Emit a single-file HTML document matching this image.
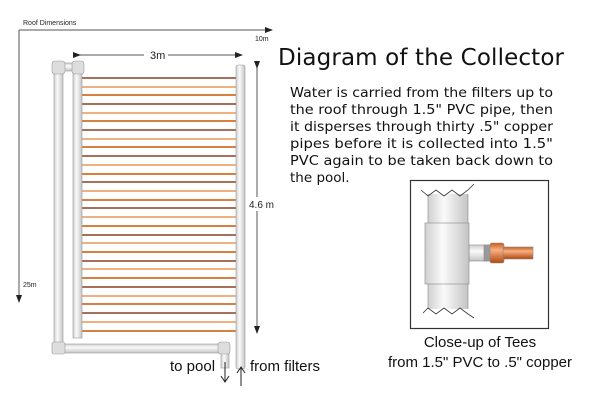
<!DOCTYPE html>
<html><head><meta charset="utf-8"><style>html,body{margin:0;padding:0;background:#fff}svg{display:block}</style></head><body>
<svg width="600" height="400" viewBox="0 0 600 400" xmlns="http://www.w3.org/2000/svg">
<defs>
<linearGradient id="pv" x1="0" x2="1" y1="0" y2="0"><stop offset="0" stop-color="#d0d0d0"/><stop offset="0.4" stop-color="#fafafa"/><stop offset="1" stop-color="#c4c4c4"/></linearGradient>
<linearGradient id="ph" x1="0" x2="0" y1="0" y2="1"><stop offset="0" stop-color="#d0d0d0"/><stop offset="0.4" stop-color="#fafafa"/><stop offset="1" stop-color="#c4c4c4"/></linearGradient>
<linearGradient id="cu" x1="0" x2="0" y1="0" y2="1"><stop offset="0" stop-color="#c85a20"/><stop offset="0.35" stop-color="#f8b080"/><stop offset="1" stop-color="#b04810"/></linearGradient>
<marker id="ah" markerWidth="8" markerHeight="6" refX="7" refY="3" orient="auto"><path d="M0,0 L8,3 L0,6 z" fill="#222"/></marker>
</defs>
<g font-family="Liberation Sans, sans-serif" fill="#222">
<text x="23" y="25" font-size="7">Roof Dimensions</text>
<text x="255" y="41" font-size="7">10m</text>
<text x="23" y="287" font-size="7">25m</text>
</g>
<line x1="19" y1="30" x2="272" y2="30" stroke="#555" stroke-width="1" marker-end="url(#ah)"/>
<line x1="19" y1="30" x2="19" y2="302" stroke="#555" stroke-width="1" marker-end="url(#ah)"/>
<line x1="80" y1="55" x2="144" y2="55" stroke="#555" marker-start="url(#ah)"/>
<line x1="168" y1="55" x2="242" y2="55" stroke="#555" marker-end="url(#ah)"/>
<text x="150" y="59" font-family="Liberation Sans, sans-serif" font-size="11" fill="#222">3m</text>
<line x1="257" y1="68" x2="257" y2="333" stroke="#555" marker-start="url(#ah)" marker-end="url(#ah)"/>
<rect x="249" y="197" width="26" height="14" fill="#fff"/>
<text x="249" y="208" font-family="Liberation Sans, sans-serif" font-size="10" fill="#222">4.6 m</text>
<g>
<rect x="81" y="77" width="155" height="2" fill="#a87058"/><rect x="81" y="86" width="155" height="2" fill="#f0b080"/><rect x="81" y="94" width="155" height="2" fill="#d88040"/>
<rect x="81" y="103" width="155" height="2" fill="#a87058"/><rect x="81" y="112" width="155" height="2" fill="#f0b080"/><rect x="81" y="120" width="155" height="2" fill="#d88040"/>
<rect x="81" y="129" width="155" height="2" fill="#a87058"/><rect x="81" y="138" width="155" height="2" fill="#f0b080"/><rect x="81" y="146" width="155" height="2" fill="#d88040"/>
<rect x="81" y="155" width="155" height="2" fill="#a87058"/><rect x="81" y="164" width="155" height="2" fill="#f0b080"/><rect x="81" y="173" width="155" height="2" fill="#d88040"/>
<rect x="81" y="181" width="155" height="2" fill="#a87058"/><rect x="81" y="190" width="155" height="2" fill="#f0b080"/><rect x="81" y="199" width="155" height="2" fill="#d88040"/>
<rect x="81" y="207" width="155" height="2" fill="#a87058"/><rect x="81" y="216" width="155" height="2" fill="#f0b080"/><rect x="81" y="225" width="155" height="2" fill="#d88040"/>
<rect x="81" y="234" width="155" height="2" fill="#a87058"/><rect x="81" y="242" width="155" height="2" fill="#f0b080"/><rect x="81" y="251" width="155" height="2" fill="#d88040"/>
<rect x="81" y="260" width="155" height="2" fill="#a87058"/><rect x="81" y="268" width="155" height="2" fill="#f0b080"/><rect x="81" y="277" width="155" height="2" fill="#d88040"/>
<rect x="81" y="286" width="155" height="2" fill="#a87058"/><rect x="81" y="295" width="155" height="2" fill="#f0b080"/><rect x="81" y="303" width="155" height="2" fill="#d88040"/>
<rect x="81" y="312" width="155" height="2" fill="#a87058"/><rect x="81" y="321" width="155" height="2" fill="#f0b080"/><rect x="81" y="330" width="155" height="2" fill="#d88040"/>
</g>
<g stroke="#999" stroke-width="0.6">
<rect x="54" y="70" width="9" height="275" fill="url(#pv)"/>
<rect x="73" y="70" width="9" height="268" fill="url(#pv)"/>
<rect x="236" y="65" width="9" height="304" rx="2" fill="url(#pv)"/>
<rect x="62" y="63" width="12" height="8" fill="url(#ph)"/>
<rect x="52" y="61" width="13" height="13" rx="3" fill="#ddd"/>
<rect x="72" y="61" width="12" height="13" rx="3" fill="#ddd"/>
<rect x="64" y="344" width="156" height="9" fill="url(#ph)"/>
<rect x="221" y="350" width="8" height="18" fill="url(#pv)"/>
<rect x="52" y="342" width="13" height="12" rx="2" fill="#ddd"/>
<rect x="218" y="342" width="12" height="12" rx="3" fill="#ddd"/>
</g>
<line x1="225" y1="362" x2="225" y2="382" stroke="#222"/><path d="M221,376 L225,382 L229,376" fill="none" stroke="#222"/>
<line x1="241" y1="386" x2="241" y2="367" stroke="#222"/><path d="M237,373 L241,367 L245,373" fill="none" stroke="#222"/>
<g font-family="Liberation Sans, sans-serif" font-size="15" fill="#111">
<text x="170" y="371">to pool</text>
<text x="250" y="371">from filters</text>
</g>
<text x="278" y="65" font-family="DejaVu Sans, sans-serif" font-size="23" fill="#111" textLength="286">Diagram of the Collector</text>
<g font-family="DejaVu Sans, sans-serif" font-size="13.5" fill="#111">
<text x="290" y="97" textLength="263" lengthAdjust="spacingAndGlyphs">Water is carried from the filters up to</text>
<text x="290" y="114" textLength="263" lengthAdjust="spacingAndGlyphs">the roof through 1.5" PVC pipe, then</text>
<text x="290" y="131" textLength="263" lengthAdjust="spacingAndGlyphs">it disperses through thirty .5" copper</text>
<text x="290" y="148" textLength="263" lengthAdjust="spacingAndGlyphs">pipes before it is collected into 1.5"</text>
<text x="290" y="165" textLength="263" lengthAdjust="spacingAndGlyphs">PVC again to be taken back down to</text>
<text x="290" y="182">the pool.</text>
</g>
<rect x="410.5" y="180.5" width="138" height="148" fill="#fff" stroke="#333" stroke-width="1.2"/>
<g stroke="#888" stroke-width="0.6">
<rect x="428" y="194" width="40" height="115" fill="url(#pv)" stroke="none"/>
<line x1="428" y1="194" x2="428" y2="309"/><line x1="468" y1="194" x2="468" y2="309"/>
<rect x="469" y="245" width="21" height="16" fill="url(#ph)"/>
<rect x="425" y="223" width="44" height="61" fill="url(#pv)"/>
<rect x="484" y="245" width="7" height="16" fill="#999"/>
<rect x="490" y="243" width="14" height="20" rx="2" fill="url(#cu)"/>
<rect x="503" y="247" width="30" height="12" fill="url(#cu)"/>
</g>
<path d="M421,190 L428,196 L436,190 L444,196 L452,190 L460,196 L468,190 L474,184" fill="none" stroke="#333" stroke-width="0.8"/>
<path d="M423,313 L428,308 L436,314 L444,308 L452,314 L460,308 L468,314 L474,318" fill="none" stroke="#333" stroke-width="0.8"/>
<g font-family="Liberation Sans, sans-serif" font-size="15" fill="#111" text-anchor="middle">
<text x="480" y="347">Close-up of Tees</text>
<text x="480" y="367">from 1.5" PVC to .5" copper</text>
</g>
</svg>
</body></html>
